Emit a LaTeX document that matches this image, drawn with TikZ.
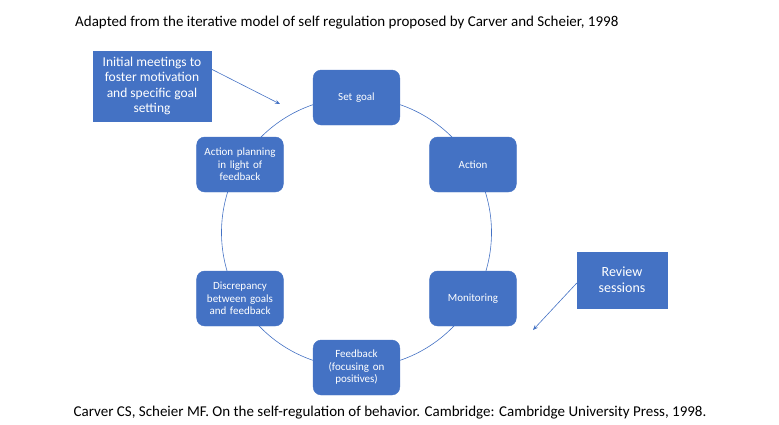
\documentclass[tikz,border=0pt]{standalone}
\usepackage{fontspec}
\setmainfont{Carlito}
\usepackage{tikz}
\usetikzlibrary{arrows.meta}

\definecolor{officeblue}{HTML}{4472C4}

\begin{document}
\begin{tikzpicture}[x=1pt, y=-1pt,
    stagebox/.style={rectangle, rounded corners=8pt, fill=officeblue, draw=officeblue,
        text=white, minimum width=86pt, minimum height=55pt, text width=80pt, align=center,
        font=\fontsize{11}{12.5}\selectfont},
    notebox/.style={rectangle, fill=officeblue, draw=officeblue, text=white, align=center},
    cycleline/.style={draw=officeblue, line width=0.6pt},
    pointer/.style={draw=officeblue, line width=0.6pt, -{Stealth[length=5pt, width=4pt]}}]
    \useasboundingbox (0,0) rectangle (779,424);

    % the cycle
    \coordinate (centre) at (356.5, 232.5);
    \draw[cycleline] (centre) circle[radius=135pt];

    \node[stagebox] (goal) at (356.5, 97.5) {Set goal};
    \node[stagebox] (action) at (473, 164.5) {Action};
    \node[stagebox] (monitor) at (473, 298.5) {Monitoring};
    \node[stagebox] (feedback) at (356.5, 367.5) {Feedback\\(focusing on\\positives)};
    \node[stagebox] (discrep) at (240, 298.5) {Discrepancy\\between goals\\and feedback};
    \node[stagebox] (plan) at (240, 164.5) {Action planning\\in light of\\feedback};

    % intervention notes
    \node[notebox, minimum width=118pt, minimum height=70pt, font=\fontsize{13.5}{15.5}\selectfont]
        (meetings) at (152, 86) {Initial meetings to\\foster motivation\\and specific goal\\setting};
    \node[notebox, minimum width=90pt, minimum height=56pt, font=\fontsize{14}{16}\selectfont]
        (review) at (622, 280) {Review\\sessions};
    \coordinate (meetingsend) at (280, 104);
    \coordinate (reviewend) at (533, 330);
    \draw[pointer] (meetings.east |- 0,69) -- (meetingsend);
    \draw[pointer] (review.west |- 0,283) -- (reviewend);

    % captions
    \node[anchor=west, font=\fontsize{15}{17}\selectfont, inner sep=0pt] (title) at (75, 23)
        {Adapted from the iterative model of self regulation proposed by Carver and Scheier, 1998};
    \node[font=\fontsize{15}{17}\selectfont, inner sep=0pt] (source) at (390, 413)
        {Carver CS, Scheier MF. On the self-regulation of behavior. Cambridge: Cambridge University Press, 1998.};
\end{tikzpicture}
\end{document}
